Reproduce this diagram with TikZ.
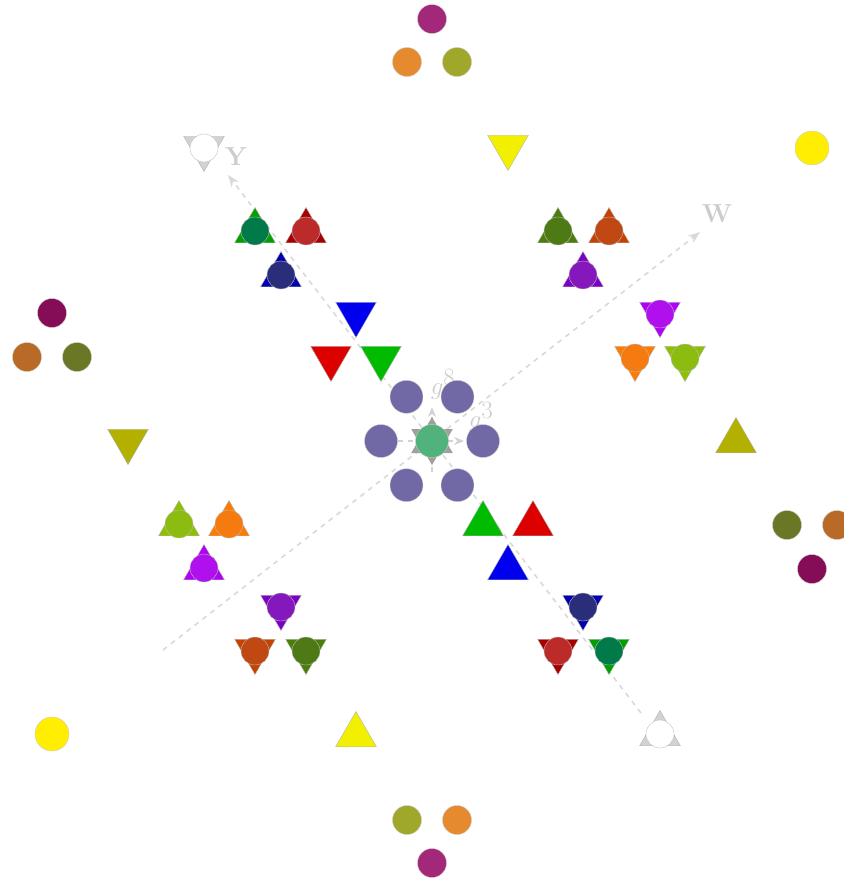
\documentclass[tikz,border=0pt]{standalone}
\usepackage{tikz}
\usetikzlibrary{arrows.meta,shapes.geometric,calc}
\definecolor{tblue}{HTML}{0000EE}
\definecolor{tred}{HTML}{DD0000}
\definecolor{tgreen}{HTML}{00BB00}
\definecolor{dgreen}{HTML}{00A000}
\definecolor{dgreendot}{HTML}{007A48}
\definecolor{dred}{HTML}{A80000}
\definecolor{dreddot}{HTML}{BC2A2A}
\definecolor{dblue}{HTML}{0000B0}
\definecolor{dbluedot}{HTML}{2A2E7A}
\definecolor{olivetri}{HTML}{4B7D0A}
\definecolor{olivedot}{HTML}{4E7A16}
\definecolor{rusttri}{HTML}{C54300}
\definecolor{rustdot}{HTML}{C04812}
\definecolor{violtri}{HTML}{7C00C3}
\definecolor{violdot}{HTML}{8418BC}
\definecolor{magtri}{HTML}{B000F5}
\definecolor{magdot}{HTML}{B010EE}
\definecolor{orgtri}{HTML}{FF7A00}
\definecolor{orgdot}{HTML}{F57A10}
\definecolor{limetri}{HTML}{8CC000}
\definecolor{limedot}{HTML}{8CBC10}
\definecolor{yellowtri}{HTML}{F2EF00}
\definecolor{mustard}{HTML}{B4B000}
\definecolor{sunny}{HTML}{FFEE00}
\definecolor{cpurple}{HTML}{7069A6}
\definecolor{cgreen}{HTML}{52B27B}
\definecolor{pmag}{HTML}{A3287A}
\definecolor{porg}{HTML}{E58A2E}
\definecolor{poli}{HTML}{9FA82A}
\definecolor{qmag}{HTML}{850C57}
\definecolor{qorg}{HTML}{B86A26}
\definecolor{qoli}{HTML}{6A7826}
\tikzset{
  axisarr/.style  = {-{Stealth[length=12pt,width=9pt]},gray!30,line width=1.6pt,dash pattern=on 5pt off 5pt},
  genarr/.style   = {-{Stealth[length=10pt,width=8pt]},gray!35,line width=1.6pt,dash pattern=on 5pt off 5pt},
  axislbl/.style  = {gray!40,font=\fontsize{26}{30}\selectfont\bfseries,inner sep=0pt},
  genlbl/.style   = {gray!40,font=\fontsize{33}{38}\selectfont,inner sep=0pt},
  uptri/.style    = {regular polygon,regular polygon sides=3,minimum size=47pt,inner sep=0pt,draw=gray!60,line width=0.4pt},
  dntri/.style    = {uptri,shape border rotate=180},
  hexpart/.style  = {regular polygon,regular polygon sides=3,minimum size=48pt,inner sep=0pt,fill=gray!75},
  ondot/.style    = {circle,minimum size=28pt,inner sep=0pt,draw=gray!50,line width=0.4pt},
  cdot/.style     = {circle,minimum size=33pt,inner sep=0pt,draw=gray!40,line width=0.4pt},
  sdot/.style     = {circle,minimum size=29pt,inner sep=0pt,draw=gray!40,line width=0.4pt}
}
% triangle with a dot on it: name, position, style, triangle colour, dot colour
\newcommand{\tridot}[5]{%
  \node[#3,fill=#4] (#1) at (#2) {};
  \node[ondot,fill=#5] (#1d) at (#1.center) {};
}
\begin{document}
\begin{tikzpicture}[x=1pt,y=-1pt]
  \useasboundingbox (0,0) rectangle (844,879);
  % axes
  \coordinate (yend) at (641,713);
  \coordinate (ytip) at (228,175);
  \coordinate (wend) at (163,650);
  \coordinate (wtip) at (700,232);
  \draw[axisarr] (yend) -- (ytip);
  \draw[axisarr] (wend) -- (wtip);
  \node[axislbl] (ylbl) at (236,157) {Y};
  \node[axislbl] (wlbl) at (717,214) {W};
  % generators at the origin
  \coordinate (o) at (432,441);
  \coordinate (hstart) at (398,441);
  \coordinate (htip) at (464,441);
  \coordinate (vstart) at (432,472);
  \coordinate (vtip) at (432,407);
  \node[genlbl] (g8) at (443,384) {$g^8$};
  \node[genlbl] (g3) at (481,417) {$g^3$};
  \draw[genarr] (hstart) -- (htip);
  \draw[genarr] (vstart) -- (vtip);
  \node[hexpart] (hexup) at (o) {};
  \node[hexpart,shape border rotate=180] (hexdn) at (o) {};
  \node[cdot,fill=cgreen] (origin) at (o) {};
  \foreach \a [count=\i] in {0,60,...,300}
    \node[cdot,fill=cpurple] (nb\i) at ($(o)+(\a:51)$) {};

  % plain triangles near the origin
  \node[dntri,fill=tblue]  (aBlue)  at (356,314) {};
  \node[dntri,fill=tred]   (aRed)   at (331,358) {};
  \node[dntri,fill=tgreen] (aGreen) at (381,358) {};
  \node[uptri,fill=tgreen] (bGreen) at (483,524) {};
  \node[uptri,fill=tred]   (bRed)   at (533,524) {};
  \node[uptri,fill=tblue]  (bBlue)  at (508,568) {};

  % triangles with dots along Y
  \tridot{cGreen}{255,231}{uptri}{dgreen}{dgreendot}
  \tridot{cRed}{306,231}{uptri}{dred}{dreddot}
  \tridot{cBlue}{281,275}{uptri}{dblue}{dbluedot}
  \tridot{dBlue}{583,607}{dntri}{dblue}{dbluedot}
  \tridot{dRed}{558,651}{dntri}{dred}{dreddot}
  \tridot{dGreen}{609,651}{dntri}{dgreen}{dgreendot}

  % triangles with dots along W
  \tridot{eOlive}{558,231}{uptri}{olivetri}{olivedot}
  \tridot{eRust}{609,231}{uptri}{rusttri}{rustdot}
  \tridot{eViol}{583,275}{uptri}{violtri}{violdot}
  \tridot{hViol}{281,607}{dntri}{violtri}{violdot}
  \tridot{hRust}{255,651}{dntri}{rusttri}{rustdot}
  \tridot{hOlive}{306,651}{dntri}{olivetri}{olivedot}
  \tridot{fMag}{660,314}{dntri}{magtri}{magdot}
  \tridot{fOrg}{635,358}{dntri}{orgtri}{orgdot}
  \tridot{fLime}{685,358}{dntri}{limetri}{limedot}
  \tridot{gLime}{179,524}{uptri}{limetri}{limedot}
  \tridot{gOrg}{229,524}{uptri}{orgtri}{orgdot}
  \tridot{gMag}{204,568}{uptri}{magtri}{magdot}

  % axis ends
  \tridot{yTop}{204,148}{dntri}{gray!35}{white}
  \tridot{yBot}{660,734}{uptri}{gray!35}{white}

  % single triangles
  \node[dntri,fill=yellowtri] (yelDn) at (508,147) {};
  \node[uptri,fill=yellowtri] (yelUp) at (356,735) {};
  \node[dntri,fill=mustard]   (musDn) at (128,441) {};
  \node[uptri,fill=mustard]   (musUp) at (736,441) {};

  % single dots
  \node[cdot,minimum size=34pt,fill=sunny] (sunA) at (812,148) {};
  \node[cdot,minimum size=34pt,fill=sunny] (sunB) at (52,734) {};

  % triples of dots
  \node[sdot,fill=pmag] (topMag) at (432,19) {};
  \node[sdot,fill=porg] (topOrg) at (407,62) {};
  \node[sdot,fill=poli] (topOli) at (457,62) {};
  \node[sdot,fill=pmag] (botMag) at (432,863) {};
  \node[sdot,fill=porg] (botOrg) at (457,820) {};
  \node[sdot,fill=poli] (botOli) at (407,820) {};
  \node[sdot,fill=qmag] (lftMag) at (52,313) {};
  \node[sdot,fill=qorg] (lftOrg) at (27,357) {};
  \node[sdot,fill=qoli] (lftOli) at (77,357) {};
  \node[sdot,fill=qmag] (rgtMag) at (812,569) {};
  \node[sdot,fill=qorg] (rgtOrg) at (837,525) {};
  \node[sdot,fill=qoli] (rgtOli) at (787,525) {};
\end{tikzpicture}
\end{document}
